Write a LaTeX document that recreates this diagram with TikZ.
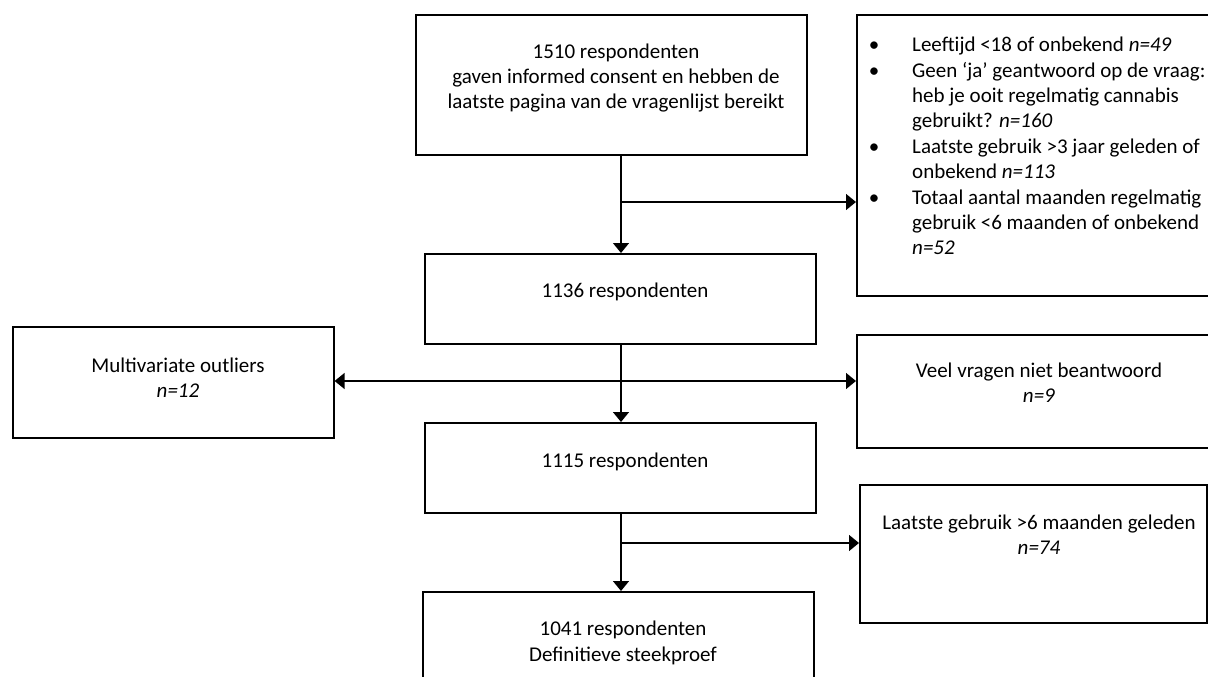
\documentclass[tikz,border=0pt]{standalone}
\usepackage{fontspec}
\setmainfont{Carlito}
\usetikzlibrary{arrows.meta}
\begin{document}
\begin{tikzpicture}[x=1pt,y=-1pt,
  box/.style={draw=black,line width=1.6pt,inner sep=0pt,anchor=north west},
  txt/.style={inner sep=0pt,align=center,font=\fontsize{21}{25.4}\selectfont},
  flow/.style={line width=1.4pt,-{Triangle[length=10pt,width=16pt]}}]
\useasboundingbox (0,0) rectangle (1208,677);
% boxes
\node[box,minimum width=391pt,minimum height=140pt] (b1) at (415,14) {};
\node[box,minimum width=370pt,minimum height=281pt] (ex1) at (856,14) {};
\node[box,minimum width=391pt,minimum height=90pt] (b2) at (424,253) {};
\node[box,minimum width=321pt,minimum height=111pt] (ex2) at (12,326) {};
\node[box,minimum width=370pt,minimum height=113pt] (ex3) at (856,334) {};
\node[box,minimum width=391pt,minimum height=90pt] (b3) at (424,422) {};
\node[box,minimum width=347pt,minimum height=138pt] (ex4) at (859,484) {};
\node[box,minimum width=391pt,minimum height=120pt] (b4) at (422,591) {};
% texts
\node[txt] (t1) at (616,78) {1510 respondenten\\gaven informed consent en hebben de\\laatste pagina van de vragenlijst bereikt};
\node[txt,anchor=north west,align=left] (tex1) at (912,37) {%
\llap{\textbullet\hspace{33pt}}Leeftijd <18 of onbekend \textit{n=49}\\
\llap{\textbullet\hspace{33pt}}Geen ‘ja’ geantwoord op de vraag:\\
heb je ooit regelmatig cannabis\\
gebruikt? \textit{n=160}\\
\llap{\textbullet\hspace{33pt}}Laatste gebruik >3 jaar geleden of\\
onbekend \textit{n=113}\\
\llap{\textbullet\hspace{33pt}}Totaal aantal maanden regelmatig\\
gebruik <6 maanden of onbekend\\
\textit{n=52}};
\node[txt] (t2) at (625,292) {1136 respondenten};
\node[txt] (tex2) at (178,378) {Multivariate outliers\\\textit{n=12}};
\node[txt] (tex3) at (1039,383) {Veel vragen niet beantwoord\\\textit{n=9}};
\node[txt] (t3) at (625,462) {1115 respondenten};
\node[txt] (tex4) at (1039,535) {Laatste gebruik >6 maanden geleden\\\textit{n=74}};
\node[txt] (t4) at (623,643) {1041 respondenten\\Definitieve steekproef};
% connectors
\coordinate (j1) at (621,202);
\coordinate (j2) at (621,381);
\coordinate (j3) at (621,543);
\draw[flow] (b1.south -| j1) -- (b2.north -| j1);
\draw[flow] (j1) -- (j1 -| ex1.west);
\draw[flow] (b2.south -| j2) -- (b3.north -| j2);
\draw[flow] (j2) -- (j2 -| ex3.west);
\draw[flow] (j2) -- (j2 -| ex2.east);
\draw[flow] (b3.south -| j3) -- (b4.north -| j3);
\draw[flow] (j3) -- (j3 -| ex4.west);
\end{tikzpicture}
\end{document}
